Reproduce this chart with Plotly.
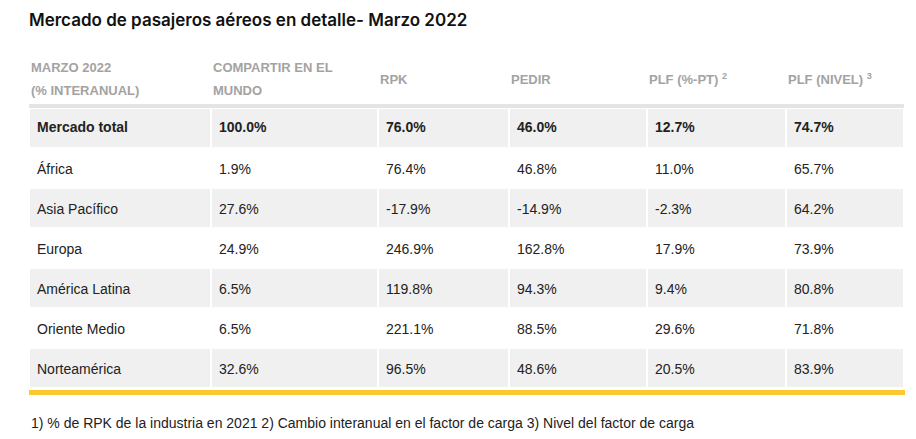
import plotly.graph_objects as go

# data
regions = ['Mercado total', 'África', 'Asia Pacífico', 'Europa', 'América Latina',
           'Oriente Medio', 'Norteamérica']
world_share = ['100.0%', '1.9%', '27.6%', '24.9%', '6.5%', '6.5%', '32.6%']
rpk = ['76.0%', '76.4%', '-17.9%', '246.9%', '119.8%', '221.1%', '96.5%']
ask = ['46.0%', '46.8%', '-14.9%', '162.8%', '94.3%', '88.5%', '48.6%']
plf_pt = ['12.7%', '11.0%', '-2.3%', '17.9%', '9.4%', '29.6%', '20.5%']
plf_level = ['74.7%', '65.7%', '64.2%', '73.9%', '80.8%', '71.8%', '83.9%']

headers = [
    ['MARZO 2022', '(% INTERANUAL)'],
    ['COMPARTIR EN EL', 'MUNDO'],
    ['RPK'],
    ['PEDIR'],
    ['PLF (%-PT) <sup>2</sup>'],
    ['PLF (NIVEL) <sup>3</sup>'],
]

title = 'Mercado de pasajeros aéreos en detalle- Marzo 2022'
footnote = ('1) % de RPK de la industria en 2021 2) Cambio interanual en el factor '
            'de carga 3) Nivel del factor de carga')

# the page body has an 8px margin, so the figure sits at (8, 8) in the window
PAGE = 8
W, H = 916 - 2 * PAGE, 439 - 2 * PAGE
TITLE_FONT = 'Inter'
FONT = 'Liberation Sans'
col_px = [182, 167, 131, 138, 139, 118]
left_px, top_px, row_h = 29, 108, 40


def px_x(x):
    return (x - PAGE) / W


def px_y(y):
    return 1 - (y - PAGE) / H


columns = [regions, world_share, rpk, ask, plf_pt, plf_level]
n_rows = len(regions)
n_cols = len(columns)

# total row goes in the table header (bold), regions in the body
total_row = ['<b>%s</b>' % col[0] for col in columns]
body = [col[1:] for col in columns]
row_fill = ['white' if i % 2 == 0 else '#f0f0f0' for i in range(n_rows - 1)]

right_px = left_px + sum(col_px)
bottom_px = top_px + row_h * n_rows
text_font = dict(family=FONT, size=14, color='#222222')

fig = go.Figure()

# background table: striped cells and white separators
fig.add_trace(go.Table(
    domain=dict(x=[px_x(left_px), px_x(right_px)], y=[0, px_y(top_px)]),
    columnwidth=col_px,
    header=dict(values=[''] * n_cols, height=row_h, fill_color='#f0f0f0',
                line=dict(color='white', width=2)),
    cells=dict(values=[[''] * (n_rows - 1)] * n_cols, height=row_h,
               fill_color=[row_fill] * n_cols,
               line=dict(color='white', width=2)),
))

# text table on top, nudged down so the values sit in the middle of each row
fig.add_trace(go.Table(
    domain=dict(x=[px_x(left_px), px_x(right_px)], y=[0, px_y(top_px + 3)]),
    columnwidth=col_px,
    header=dict(values=total_row, height=row_h + 4, align='left',
                fill_color='rgba(0,0,0,0)', line=dict(width=0), font=text_font),
    cells=dict(values=body, height=row_h, align='left',
               fill_color='rgba(0,0,0,0)', line=dict(width=0), font=text_font),
))

# column header labels
annotations = []
x0 = left_px
for w, lines in zip(col_px, headers):
    ys = [79] if len(lines) == 1 else [68, 90]
    for txt, y in zip(lines, ys):
        annotations.append(dict(
            x=px_x(x0), y=px_y(y), xref='paper', yref='paper',
            xanchor='left', yanchor='middle', showarrow=False, text=txt,
            font=dict(family=FONT, size=13, color='#a3a3a3', weight='bold'),
        ))
    x0 += w

annotations.append(dict(
    x=px_x(left_px), y=px_y(423), xref='paper', yref='paper',
    xanchor='left', yanchor='middle', showarrow=False, text=footnote,
    font=text_font,
))

shapes = [
    # darker strip above the total row
    dict(type='rect', xref='paper', yref='paper',
         x0=px_x(left_px), x1=px_x(right_px),
         y0=px_y(top_px), y1=px_y(top_px - 4),
         fillcolor='#e4e4e4', line=dict(width=0)),
    # yellow rule under the table
    dict(type='rect', xref='paper', yref='paper',
         x0=px_x(left_px), x1=px_x(right_px + 1),
         y0=px_y(bottom_px + 7), y1=px_y(bottom_px + 2),
         fillcolor='#fbc82f', line=dict(width=0)),
]

fig.update_layout(
    width=W, height=H,
    margin=dict(l=0, r=0, t=0, b=0),
    paper_bgcolor='white',
    title=dict(text=title, x=px_x(left_px), xanchor='left', y=px_y(20), yanchor='middle',
               font=dict(family=TITLE_FONT, size=17, color='#111111', weight=600)),
    annotations=annotations,
    shapes=shapes,
)

fig.write_html('out.html')
